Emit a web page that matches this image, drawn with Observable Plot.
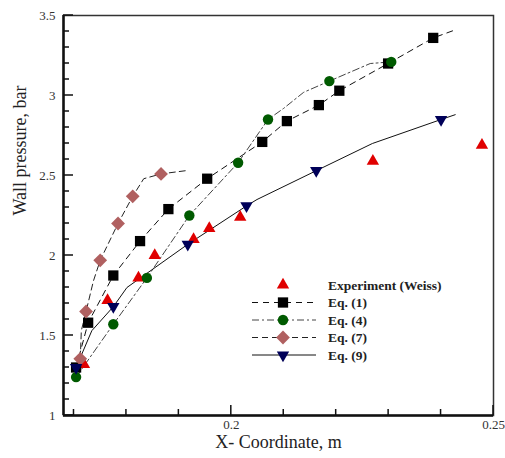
<!DOCTYPE html>
<html><head><meta charset="utf-8">
<script src="https://cdn.jsdelivr.net/npm/d3@7"></script>
<script src="https://cdn.jsdelivr.net/npm/@observablehq/plot@0.6"></script>
<style>body{margin:0;background:#fff}</style>
</head><body><div id="chart"></div>
<script>
// ---- data ----
const expX = [0.1719,0.1764,0.1823,0.1854,0.1928,0.1958,0.2017,0.2270,0.2478];
const expY = [1.32,1.72,1.86,2.00,2.10,2.17,2.24,2.59,2.69];

const eq1X = [0.1704,0.1727,0.1775,0.1826,0.1880,0.1954,0.2059,0.2106,0.2167,0.2206,0.2299,0.2385];
const eq1Y = [1.30,1.58,1.875,2.09,2.29,2.48,2.71,2.84,2.94,3.03,3.20,3.36];
const eq1LineX = [0.1704,0.1727,0.1775,0.1826,0.1880,0.1954,0.2059,0.2106,0.2167,0.2206,0.2299,0.2385,0.2427];
const eq1LineY = [1.30,1.58,1.875,2.09,2.29,2.48,2.71,2.84,2.94,3.03,3.20,3.36,3.41];

const eq4X = [0.1704,0.1775,0.1839,0.1920,0.2013,0.2070,0.2187,0.2305];
const eq4Y = [1.24,1.57,1.86,2.25,2.58,2.85,3.09,3.21];
const eq4LineX = [0.1704,0.1775,0.1839,0.1920,0.2013,0.2070,0.2100,0.2138,0.2187,0.2265,0.2305];
const eq4LineY = [1.24,1.57,1.86,2.25,2.58,2.85,2.92,3.02,3.09,3.20,3.21];

const eq7X = [0.1712,0.1723,0.1750,0.1784,0.1812,0.1866];
const eq7Y = [1.354,1.65,1.97,2.20,2.37,2.51];
const eq7LineX = [0.1712,0.1714,0.1723,0.1737,0.1750,0.1784,0.1812,0.1833,0.1866,0.1913];
const eq7LineY = [1.354,1.53,1.65,1.84,1.97,2.20,2.37,2.48,2.51,2.53];

const eq9X = [0.1704,0.1775,0.1917,0.2029,0.2162,0.2400];
const eq9Y = [1.30,1.68,2.07,2.31,2.53,2.85];
const eq9LineX = [0.1704,0.1734,0.1775,0.1801,0.1917,0.2029,0.2049,0.2162,0.2269,0.2400,0.2427];
const eq9LineY = [1.30,1.53,1.68,1.80,2.07,2.31,2.35,2.53,2.70,2.85,2.88];

const xDomain = [0.168, 0.25];
const yDomain = [1, 3.5];
const xMinorTicks = [0.17,0.18,0.19,0.21,0.22,0.23,0.24];
const xMajorTicks = [0.2,0.25];
const xTickLabels = ["0.2","0.25"];
const yMinorTicks = [1.1,1.2,1.3,1.4,1.6,1.7,1.8,1.9,2.1,2.2,2.3,2.4,2.6,2.7,2.8,2.9,3.1,3.2,3.3,3.4];
const yMajorTicks = [1,1.5,2,2.5,3,3.5];
const yTickLabels = ["1","1.5","2","2.5","3","3.5"];

const seriesNames = ["Experiment (Weiss)","Eq. (1)","Eq. (4)","Eq. (7)","Eq. (9)"];
const xTitle = "X- Coordinate, m";
const yTitle = "Wall pressure, bar";

// ---- helpers ----
const pts = (xv, yv) => xv.map((x, i) => ({x, y: yv[i]}));
const triangleDown = {
  draw(context, size) {
    const y = Math.sqrt(size / (Math.sqrt(3) * 3));
    context.moveTo(0, y * 2);
    context.lineTo(-Math.sqrt(3) * y, -y);
    context.lineTo(Math.sqrt(3) * y, -y);
    context.closePath();
  }
};
const S = {
  exp: {color: "#e00000", symbol: "triangle", r: 4.6},
  eq1: {color: "#000000", symbol: "square", r: 5.8, dash: "6,5", line: "#111"},
  eq4: {color: "#005a00", symbol: "circle", r: 5.2, dash: "7,3,2,3", line: "#444"},
  eq7: {color: "#b06060", symbol: "diamond2", r: 6.2, dash: "6,4", line: "#222"},
  eq9: {color: "#000058", symbol: triangleDown, r: 4.6, dash: null, line: "#111"}
};
const serif = "'Liberation Serif','DejaVu Serif',serif";

const lineMark = (xv, yv, s) => Plot.line(pts(xv, yv), {x: "x", y: "y", stroke: s.line, strokeWidth: 1, strokeDasharray: s.dash || undefined});
const dotMark = (xv, yv, s) => Plot.dot(pts(xv, yv), {x: "x", y: "y", symbol: s.symbol, r: s.r, fill: s.color, stroke: "none"});

const plot = Plot.plot({
  width: 505, height: 458,
  marginLeft: 63, marginRight: 12, marginTop: 15, marginBottom: 43,
  style: {fontFamily: serif, background: "#fff", overflow: "visible"},
  x: {domain: xDomain},
  y: {domain: yDomain},
  marks: [
    lineMark(eq1LineX, eq1LineY, S.eq1),
    lineMark(eq4LineX, eq4LineY, S.eq4),
    lineMark(eq7LineX, eq7LineY, S.eq7),
    lineMark(eq9LineX, eq9LineY, S.eq9),
    dotMark(expX, expY, S.exp),
    dotMark(eq1X, eq1Y, S.eq1),
    dotMark(eq4X, eq4Y, S.eq4),
    dotMark(eq7X, eq7Y, S.eq7),
    dotMark(eq9X, eq9Y, S.eq9),
    Plot.frame({stroke: "#333", strokeWidth: 1.5}),
    Plot.axisX(xMajorTicks, {tickSize: 0, tickPadding: 4, tickFormat: d => xTickLabels[xMajorTicks.indexOf(d)], label: null, fontSize: 13, fill: "#333"}),
    Plot.axisY(yMajorTicks, {tickSize: 0, tickPadding: 8, tickFormat: d => yTickLabels[yMajorTicks.indexOf(d)], label: null, fontSize: 13, fill: "#333"}),
    Plot.ruleY([yDomain[0]], {stroke: "#111", strokeWidth: 2.5}),
    Plot.ruleX([xDomain[0]], {stroke: "#111", strokeWidth: 2.5}),
    Plot.text([xTitle], {frameAnchor: "bottom", dy: 32, fontSize: 18, fill: "#222"}),
    Plot.text([yTitle], {frameAnchor: "left", dx: -43, rotate: -90, fontSize: 18, fill: "#222"})
  ]
});
document.getElementById("chart").appendChild(plot);

const svg = d3.select(plot);

// ---- inward ticks, positioned through Plot's own scales ----
const sx = plot.scale("x"), sy = plot.scale("y");
const x0 = sx.apply(xDomain[0]), y0 = sy.apply(yDomain[0]);
const tg = svg.append("g").attr("stroke", "#111").attr("stroke-width", 1.5);
const tick = (x1, y1, x2, y2) => tg.append("line").attr("x1", x1).attr("y1", y1).attr("x2", x2).attr("y2", y2);
xMinorTicks.forEach(v => tick(sx.apply(v), y0, sx.apply(v), y0 - 6));
xMajorTicks.forEach(v => tick(sx.apply(v), y0, sx.apply(v), y0 - 10));
yMinorTicks.forEach(v => tick(x0, sy.apply(v), x0 + 6, sy.apply(v)));
yMajorTicks.forEach(v => tick(x0, sy.apply(v), x0 + 10, sy.apply(v)));

// ---- legend (layout inside the plot frame) ----
const lg = svg.append("g").attr("font-family", serif).attr("text-anchor", "start");
const keys = ["exp","eq1","eq4","eq7","eq9"];
const symMap = {triangle: d3.symbolTriangle, square: d3.symbolSquare, circle: d3.symbolCircle, diamond2: d3.symbolDiamond2};
keys.forEach((k, i) => {
  const s = S[k];
  const y = 285 + i * 17.5;
  if (k !== "exp") {
    lg.append("line").attr("x1", 252).attr("x2", 316).attr("y1", y).attr("y2", y)
      .attr("stroke", s.line).attr("stroke-width", 1)
      .attr("stroke-dasharray", s.dash || null);
  }
  const sym = typeof s.symbol === "string" ? symMap[s.symbol] : s.symbol;
  lg.append("path").attr("d", d3.symbol(sym, Math.PI * s.r * s.r)())
    .attr("transform", `translate(283,${y})`).attr("fill", s.color);
  lg.append("text").attr("x", 328).attr("y", y).attr("dy", "0.35em")
    .attr("font-size", 13.5).attr("font-weight", "bold").attr("fill", "#222")
    .attr("text-anchor", "start")
    .text(seriesNames[i]);
});
</script></body></html>
